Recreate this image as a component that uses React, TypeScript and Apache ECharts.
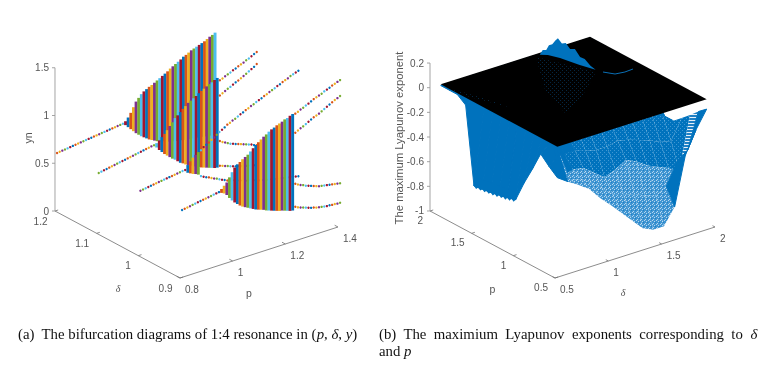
import React, { useEffect, useRef } from "react";
import * as echarts from "echarts";

// ---------- panel (a): bifurcation diagrams ----------
const pGrid = [0.8,0.81,0.82,0.83,0.84,0.85,0.86,0.87,0.88,0.89,0.9,0.91,0.92,0.93,0.94,0.95,0.96,0.97,0.98,0.99,1,1.01,1.02,1.03,1.04,1.05,1.06,1.07,1.08,1.09,1.1,1.11,1.12,1.13,1.14,1.15,1.16,1.17,1.18,1.19,1.2,1.21,1.22,1.23,1.24,1.25,1.26,1.27,1.28,1.29,1.3,1.31,1.32,1.33,1.34,1.35,1.36,1.37,1.38,1.39,1.4];
const matlabColors = ["#0072BD","#D95319","#EDB120","#7E2F8E","#77AC30","#4DBEEE","#A2142F"];

const d12Stem = [.620,.623,.626,.629,.632,.636,.640,.643,.647,.650,.653,.657,.660,.663,.667,.670,.673,.677,.680,.683,.687,.690,.693,.697,.700,.703];
const d12Top = [.71,.74,.78,.83,.88,.91,.94,.96,.975,.99,1.00,1.015,1.03,1.045,1.06,1.075,1.09,1.11,1.125,1.14,1.155,1.17,1.19,1.20,1.215,1.23,1.24,1.25,1.26,1.27,1.28,1.295,1.31,1.32,1.335];
const d12Bottom = [.69,.66,.63,.60,.57,.545,.52,.50,.48,.46,.445,.43,.415,.405,.40,.385,.375,.37,.36,.355,.35,.345,.34,.335,.33,.33,.32,.32,.31,.31,.305,.30,.295,.29,.29];

const d11Stem = [.644,.649,.654,.659,.664,.669,.674,.679,.684,.689,.694,.699,.704,.709,.714,.719,.724,.729,.734,.739,.744,.748];
const d11Top = [.75,.77,.795,.82,.85,.885,.915,.95,.97,.995,1.02,1.04,1.065,1.08,1.095,1.11,1.13,1.145,1.16,1.175,1.19,1.20,1.215,1.228];
const d11Bottom = [.725,.69,.66,.63,.605,.58,.555,.535,.51,.485,.47,.45,.435,.42,.405,.39,.38,.365,.355,.345,.335,.325,.315,.31];
const d11BranchA = [1.205,1.215,1.23,1.24,1.25,1.265,1.275,1.29,1.30,1.31,1.325,1.335,1.35,1.365,1.377];
const d11BranchB = [1.045,1.06,1.075,1.09,1.10,1.115,1.13,1.14,1.155,1.17,1.185,1.20,1.215,1.23,1.25];
const d11BranchC = [.57,.55,.535,.52,.505,.495,.485,.475,.465,.455,.445,.435,.425,.41,.40];
const d11BranchD = [.31,.30,.29,.28,.27,.26,.25,.245,.235,.23,.22,.215,.21,.20,.195];

const d10Stem = [.692,.696,.700,.704,.708,.712,.716,.720,.724,.728,.732,.736,.740,.744,.748,.752,.755,.758];
const d10Top = [.79,.82,.85,.87,.89];
const d10Bottom = [.73,.715,.70,.69,.675];
const d10BranchA = [.91,.935,.95,.965,.985,1.00,1.02,1.04,1.055,1.07,1.09,1.10,1.115,1.125,1.14,1.155,1.165,1.18,1.19,1.205,1.215,1.23,1.24,1.25,1.265,1.275,1.29,1.30,1.31,1.325,1.335,1.35,1.36,1.37,1.385,1.395,1.405,1.414];
const d10BranchB = [.64,.625,.61,.60,.585,.57,.56,.545,.53,.52,.505,.495,.49,.48,.47,.46,.45,.44,.435,.425,.42,.41,.40,.395,.385,.38,.375,.37,.36,.355,.35,.345,.34,.335,.33,.32,.315,.31];

const d09Stem = [.724,.728,.733,.737,.742,.746,.751,.755,.760,.764,.769,.773,.778,.782,.786];
const d09Top = [.80,.825,.85,.895,.94,.98,1.005,1.02,1.04,1.055,1.07,1.095,1.12,1.145,1.165,1.185,1.205,1.22,1.24,1.255,1.265,1.28,1.29,1.30,1.315,1.32,1.335,1.345];
const d09Bottom = [.78,.765,.74,.70,.665,.635,.61,.585,.565,.55,.535,.52,.505,.49,.48,.47,.46,.445,.435,.425,.415,.405,.395,.39,.38,.37,.36,.355];
const d09BranchA = [1.35,1.36,1.375,1.385,1.40,1.41,1.425,1.44,1.45,1.46,1.47,1.485,1.495,1.505,1.52,1.53,1.54,1.55];
const d09BranchB = [1.15,1.165,1.18,1.19,1.205,1.22,1.235,1.25,1.26,1.27,1.285,1.30,1.315,1.33,1.345,1.36,1.37,1.383];
const d09BranchC = [.615,.60,.585,.575,.56,.55,.54,.53,.52,.51,.505,.50,.495,.49,.485,.48,.475,.47];
const d09BranchD = [.375,.36,.35,.34,.33,.32,.31,.305,.295,.29,.285,.28,.275,.275,.27,.27,.265,.265];

const sheets = [
  { delta: 1.195, shift: 1, stem: d12Stem, top: d12Top, bottom: d12Bottom, branches: [] as number[][] },
  { delta: 1.095, shift: 4, stem: d11Stem, top: d11Top, bottom: d11Bottom, branches: [d11BranchA, d11BranchB, d11BranchC, d11BranchD] },
  { delta: 0.995, shift: 3, stem: d10Stem, top: d10Top, bottom: d10Bottom, branches: [d10BranchA, d10BranchB] },
  { delta: 0.895, shift: 0, stem: d09Stem, top: d09Top, bottom: d09Bottom, branches: [d09BranchA, d09BranchB, d09BranchC, d09BranchD] },
];

const aYTicks = [0, 0.5, 1, 1.5];
const aDeltaTicks = [1.2, 1.1, 1, 0.9];
const aPTicks = [0.8, 1, 1.2, 1.4];
const bZTicks = [0.2, 0, -0.2, -0.4, -0.6, -0.8, -1];
const bPTicks = [2, 1.5, 1, 0.5];
const bDeltaTicks = [0.5, 1, 1.5, 2];

// ---------- panel (b): maximum Lyapunov exponent ----------
const surfaceP = [0.6,0.7,0.8,0.9,1.0,1.1,1.2,1.3,1.4,1.5,1.6,1.7,1.8,1.9,2.0];
const surfaceDelta = [0.6,0.7,0.8,0.9,1.0,1.1,1.2,1.3,1.4,1.5,1.6,1.7,1.8,1.9,2.0];
const surfaceZ = [
  [-.25,-.31,-.365,-.425,-.525,-.61,-.70,-.79,-.88,-.92,-.92,-.79,-.40,-.22,-.08],
  [-.195,-.12,-.36,-.38,-.44,-.51,-.59,-.62,-.64,-.68,-.71,-.66,-.49,-.42,-.136],
  [-.13,-.05,-.37,-.34,-.355,-.42,-.484,-.45,-.40,-.44,-.50,-.54,-.576,-.62,-.20],
  [-.29,-.03,-.25,-.25,-.25,-.28,-.30,-.30,-.28,-.30,-.33,-.36,-.40,-.42,-.26],
  [-.44,-.03,-.12,-.12,-.13,-.14,-.15,-.15,-.15,-.16,-.18,-.20,-.22,-.25,-.32],
  [-.61,-.03,-.05,-.05,-.05,-.05,-.05,-.05,-.05,-.06,-.07,-.08,-.10,-.15,-.32],
  [-.63,-.03,-.03,-.02,-.02,-.02,-.02,-.02,-.02,-.02,-.03,-.03,-.04,-.08,-.29],
  [-.645,-.04,-.02,-.02,-.02,-.02,-.02,-.02,-.02,-.02,-.02,-.02,-.02,-.05,-.25],
  [-.66,-.05,-.02,-.02,-.02,-.02,-.02,-.02,-.02,-.02,-.02,-.02,-.02,-.03,-.20],
  [-.67,-.04,-.02,-.02,-.02,-.02,-.02,-.02,-.02,-.02,-.02,-.02,-.02,-.02,-.15],
  [-.68,-.03,-.02,-.02,-.02,-.02,-.02,-.02,-.02,-.02,-.02,-.02,-.02,-.02,-.10],
  [-.06,-.02,-.02,-.02,-.02,-.02,-.02,-.02,-.02,-.02,-.02,-.02,-.02,-.02,-.06],
  [-.01,-.01,-.01,-.01,-.01,-.01,-.01,-.01,-.01,-.01,-.01,-.01,-.01,-.01,-.01],
  [-.01,-.01,-.01,-.01,-.01,-.01,-.01,-.01,-.01,-.01,-.01,-.01,-.01,-.01,-.01],
  [-.01,-.01,-.01,-.01,-.01,-.01,-.01,-.01,-.01,-.01,-.01,-.01,-.01,-.01,-.01],
];
const meshDensity = [
  "02222222222000",
  "00222222222213",
  "00011111111111",
  "00001111111111",
  "00000000000000",
];
const planeP = [0.6, 2, 2, 0.6];
const planeDelta = [0.6, 0.6, 2, 2];
const teethP = [1.1,1.125,1.15,1.175,1.2,1.225,1.25,1.275,1.3,1.325,1.35,1.375,1.4,1.425,1.45,1.475,1.5,1.525,1.55,1.575,1.6,1.6,1.1];
const teethZ = [-.61,-.635,-.62,-.645,-.63,-.655,-.64,-.66,-.645,-.67,-.655,-.675,-.66,-.68,-.665,-.685,-.67,-.69,-.675,-.695,-.68,-.6,-.55];
const spikeP = [1.97,1.972,1.975,1.968,1.96,1.955,1.95,1.925,1.90,1.855,1.81,1.735,1.66,1.585,1.51,1.65,1.835,1.93];
const spikeDelta = [1.505,1.535,1.57,1.59,1.615,1.64,1.66,1.678,1.695,1.70,1.71,1.70,1.685,1.68,1.67,1.63,1.59,1.55];
const spikeZ = [0,.03,.02,.055,.06,.085,.1,.06,.07,.035,.05,.015,.03,.002,0,0,0,0];
const arcP = [1.446,1.364,1.348,1.354];
const arcDelta = [1.689,1.738,1.818,1.898];
const speckleAP = [1.957,1.478,1.156,1.04,1.453];
const speckleADelta = [1.46,1.648,1.247,1.016,1.151];
const speckleBP = [1.943,1.618,1.344,1.69];
const speckleBDelta = [.596,.699,.765,.633];

const projA = (p: number, d: number, y: number) => [
  180 + (p - 0.8) * 263.3 - (d - 0.9) * 416.7,
  278 - (p - 0.8) * 85 - (d - 0.9) * 223.3 - y * 95.5,
];
const projB = (p: number, d: number, z: number) => [
  555 - (p - 0.5) * 83.33 + (d - 0.5) * 106.67,
  278 - (p - 0.5) * 44.67 - (d - 0.5) * 34 - (z + 1) * 123.3,
];

function makePattern(size: number, bg: string, paint: (c: CanvasRenderingContext2D) => void) {
  const cv = document.createElement("canvas");
  cv.width = size;
  cv.height = size;
  const c = cv.getContext("2d") as CanvasRenderingContext2D;
  c.fillStyle = bg;
  c.fillRect(0, 0, size, size);
  paint(c);
  return { image: cv, repeat: "repeat", imageWidth: size, imageHeight: size } as any;
}

const SANS = '"Liberation Sans", Arial, sans-serif';
const SERIF = '"Liberation Serif", "Times New Roman", serif';
const INK = "#555555";
const CAP = 14.8;

function custom(name: string, data: any[], renderItem: any) {
  return {
    type: "custom", name, data, renderItem, silent: true, clip: false, animation: false,
    xAxisIndex: 0, yAxisIndex: 0, encode: { x: 0, y: 1 },
  };
}

export default function App() {
  const ref = useRef<HTMLDivElement>(null);
  useEffect(() => {
    document.body.style.margin = "0";
    if (!ref.current) return;
    const chart = echarts.init(ref.current, undefined, { renderer: "svg" });

    const medium = makePattern(4, "#0072BD", (c) => {
      c.fillStyle = "#3c96d3";
      c.fillRect(0, 0, 1, 1);
      c.fillRect(2, 2, 1, 1);
    });
    const light = makePattern(4, "#3f95d2", (c) => {
      c.fillStyle = "#b5d6ef";
      c.fillRect(0, 0, 1, 1);
      c.fillRect(2, 1, 1, 1);
      c.fillRect(1, 3, 1, 1);
      c.fillStyle = "#1f80c5";
      c.fillRect(3, 2, 1, 1);
    });
    const hatch = makePattern(3, "#1f80c5", (c) => {
      c.fillStyle = "#e6f1f9";
      c.fillRect(0, 0, 3, 1);
    });
    const speckle = makePattern(4, "#000000", (c) => {
      c.fillStyle = "#052640";
      c.fillRect(0, 0, 1, 1);
      c.fillRect(2, 2, 1, 1);
    });
    const fills: any[] = ["#0072BD", medium, light, hatch];

    // ---- panel (a) marks ----
    const marks: any[] = [];
    sheets.forEach((s, si) => {
      const bandRowsS: number[][] = [];
      const dotRowsS: number[][] = [];
      s.stem.forEach((y, i) => dotRowsS.push([pGrid[i], s.delta, y, (i + s.shift) % 7]));
      s.top.forEach((t, k) => {
        const i = s.stem.length + k;
        bandRowsS.push([pGrid[i], s.delta, s.bottom[k], t, (i + s.shift) % 7]);
      });
      s.branches.forEach((b) =>
        b.forEach((y, k) => {
          const i = s.stem.length + s.top.length + k;
          dotRowsS.push([pGrid[i], s.delta, y, (i + s.shift) % 7]);
        })
      );
      marks.push(
        custom("band" + si, bandRowsS, (_: any, api: any) => {
          const a = api.coord(projA(api.value(0), api.value(1), api.value(3)));
          const b = api.coord(projA(api.value(0), api.value(1), api.value(2)));
          return {
            type: "rect",
            shape: { x: a[0] - 1.45, y: a[1] - 1, width: 2.9, height: b[1] - a[1] + 2 },
            style: { fill: matlabColors[api.value(4)] },
          };
        }),
        custom("dots" + si, dotRowsS, (_: any, api: any) => {
          const a = api.coord(projA(api.value(0), api.value(1), api.value(2)));
          return {
            type: "circle",
            shape: { cx: a[0], cy: a[1], r: 1.2 },
            style: { fill: matlabColors[api.value(3)] },
          };
        })
      );
    });

    // ---- axes ----
    const segs: number[][] = [];
    const pushSeg = (a: number[], b: number[]) => segs.push([a[0], a[1], b[0], b[1]]);
    pushSeg(projA(0.8, 0.9, 0), projA(1.4, 0.9, 0));
    pushSeg(projA(0.8, 0.9, 0), projA(0.8, 1.2, 0));
    aDeltaTicks.forEach((d) => pushSeg(projA(0.8, d, 0), projA(0.812, d, 0)));
    aPTicks.forEach((p) => pushSeg(projA(p, 0.9, 0), projA(p, 0.908, 0)));
    pushSeg(projB(0.5, 0.5, -1), projB(0.5, 2, -1));
    pushSeg(projB(0.5, 0.5, -1), projB(2, 0.5, -1));
    bPTicks.forEach((p) => pushSeg(projB(p, 0.5, -1), projB(p, 0.53, -1)));
    bDeltaTicks.forEach((d) => pushSeg(projB(0.5, d, -1), projB(0.53, d, -1)));
    const segsV: number[][] = [];
    const pushV = (a: number[], b: number[]) => segsV.push([a[0], a[1], b[0], b[1]]);
    pushV(projA(0.8, 1.2, 0), projA(0.8, 1.2, 1.5));
    aYTicks.forEach((y) => {
      const a = projA(0.8, 1.2, y);
      pushV(a, [a[0] - 3, a[1]]);
    });
    pushV(projB(2, 0.5, -1), projB(2, 0.5, 0.2));
    bZTicks.forEach((z) => {
      const a = projB(2, 0.5, z);
      pushV(a, [a[0] - 3, a[1]]);
    });
    const segRender = (color: string, w: number) => (_: any, api: any) => {
      const a = api.coord([api.value(0), api.value(1)]);
      const b = api.coord([api.value(2), api.value(3)]);
      return {
        type: "line",
        shape: { x1: a[0], y1: a[1], x2: b[0], y2: b[1] },
        style: { stroke: color, lineWidth: w, fill: "none" },
      };
    };

    // ---- tick labels ----
    const labels: any[] = [];
    const addLabel = (t: string, pos: number[], dx: number, dy: number, align: string) =>
      labels.push([pos[0], pos[1], dx, dy, align, t]);
    aYTicks.forEach((y) => addLabel(String(y), projA(0.8, 1.2, y), -6, 0, "right"));
    aDeltaTicks.forEach((d) => addLabel(d === 1 ? "1" : d.toFixed(1), projA(0.8, d, 0), -7.5, 10, "right"));
    aPTicks.forEach((p) => addLabel(p === 1 ? "1" : p.toFixed(1), projA(p, 0.9, 0), 5, 11.5, "left"));
    bZTicks.forEach((z) => addLabel(String(z), projB(2, 0.5, z), -6, 0, "right"));
    bPTicks.forEach((p) => addLabel(String(p), projB(p, 0.5, -1), -7, 9.5, "right"));
    bDeltaTicks.forEach((d) => addLabel(String(d), projB(0.5, d, -1), 5, 11, "left"));
    const labelRender = (_: any, api: any) => {
      const a = api.coord([api.value(0), api.value(1)]);
      return {
        type: "text",
        x: a[0] + api.value(2),
        y: a[1] + api.value(3),
        style: {
          text: labels[api.value(4)][5],
          fill: INK,
          font: `10px ${SANS}`,
          align: labels[api.value(4)][4],
          verticalAlign: "middle",
        },
      };
    };
    const labelRows = labels.map((l, i) => [l[0], l[1], l[2], l[3], i]);

    // ---- surface cells, painted back to front ----
    const cellRows: number[][] = [];
    for (let i = surfaceP.length - 2; i >= 0; i--) {
      for (let j = 0; j < surfaceDelta.length - 1; j++) {
        cellRows.push([
          surfaceP[i], surfaceDelta[j], surfaceP[i + 1], surfaceDelta[j + 1],
          surfaceZ[i][j], surfaceZ[i][j + 1], surfaceZ[i + 1][j + 1], surfaceZ[i + 1][j],
          i < meshDensity.length ? Number(meshDensity[i][j]) : 0,
        ]);
      }
    }
    const cellRender = (_: any, api: any) => {
      const v = (k: number) => api.value(k);
      const pts = [
        projB(v(0), v(1), v(4)), projB(v(0), v(3), v(5)),
        projB(v(2), v(3), v(6)), projB(v(2), v(1), v(7)),
      ].map((q) => api.coord(q));
      const cls = v(8);
      return {
        type: "polygon",
        shape: { points: pts },
        style: cls === 0
          ? { fill: fills[0], stroke: "#0072BD", lineWidth: 1 }
          : { fill: fills[cls] },
      };
    };

    const polyRender = (rows: number[][], fill: any) => (_: any, api: any) => ({
      type: "polygon",
      shape: { points: rows.map((r) => api.coord(projB(r[0], r[1], r[2]))) },
      style: { fill },
    });
    const toRows = (ps: number[], ds: number[], zs?: number[]) =>
      ps.map((p, i) => [p, ds[i], zs ? zs[i] : 0]);
    const planeRows = toRows(planeP, planeDelta);
    const spikeRows = toRows(spikeP, spikeDelta, spikeZ);
    const arcRows = toRows(arcP, arcDelta);
    const speckARows = toRows(speckleAP, speckleADelta);
    const speckBRows = toRows(speckleBP, speckleBDelta);
    const teethRows = teethP.map((p, i) => [p, 0.6, teethZ[i]]);

    chart.setOption({
      animation: false,
      backgroundColor: "#fff",
      grid: { left: 0, right: 0, top: 0, bottom: 0 },
      xAxis: { type: "value", min: 0, max: 761, show: false },
      yAxis: { type: "value", min: 0, max: 366, inverse: true, show: false },
      series: [
        custom("axes", segs, segRender("#6e6e6e", 0.8)),
        custom("axesV", segsV, segRender("#9a9a9a", 0.9)),
        ...marks,
        custom("surface", cellRows, cellRender),
        custom("teeth", [teethRows[0]], polyRender(teethRows, "#0072BD")),
        custom("plane", [planeRows[0]], polyRender(planeRows, "#000")),
        custom("speckleA", [speckARows[0]], polyRender(speckARows, speckle)),
        custom("speckleB", [speckBRows[0]], polyRender(speckBRows, speckle)),
        custom("spike", [spikeRows[0]], polyRender(spikeRows, "#0072BD")),
        custom("arc", [arcRows[0]], (_: any, api: any) => ({
          type: "polyline",
          shape: { points: arcRows.map((r) => api.coord(projB(r[0], r[1], r[2]))) },
          style: { stroke: "#0a6fb5", lineWidth: 1, fill: "none" },
        })),
        custom("labels", labelRows, labelRender),
      ],
      graphic: [
        { type: "text", x: 28, y: 138, rotation: Math.PI / 2, originX: 0, originY: 0,
          style: { text: "yn", fill: INK, font: `10.5px ${SANS}`, align: "center", verticalAlign: "middle" } },
        { type: "text", x: 118, y: 288, style: { text: "δ", fill: INK, font: `italic 10px ${SERIF}`, align: "center", verticalAlign: "middle" } },
        { type: "text", x: 249, y: 292.5, style: { text: "p", fill: INK, font: `10.5px ${SANS}`, align: "center", verticalAlign: "middle" } },
        { type: "text", x: 399, y: 138, rotation: Math.PI / 2, originX: 0, originY: 0,
          style: { text: "The maximum Lyapunov exponent", fill: INK, font: `11.3px ${SANS}`, align: "center", verticalAlign: "middle" } },
        { type: "text", x: 492.5, y: 289, style: { text: "p", fill: INK, font: `10.5px ${SANS}`, align: "center", verticalAlign: "middle" } },
        { type: "text", x: 623, y: 292.5, style: { text: "δ", fill: INK, font: `italic 10px ${SERIF}`, align: "center", verticalAlign: "middle" } },
        { type: "text", x: 18, y: 334, style: {
            text: "(a)  The bifurcation diagrams of 1:4 resonance in ({i|p}, {i|δ}, {i|y})",
            fill: "#111", font: `${CAP}px ${SERIF}`, verticalAlign: "middle",
            rich: { i: { font: `italic ${CAP}px ${SERIF}`, fill: "#111" } } } },
        { type: "text", x: 379, y: 334, style: {
            text: "(b)  The  maximium  Lyapunov  exponents  corresponding  to  {i|δ}",
            fill: "#111", font: `${CAP}px ${SERIF}`, verticalAlign: "middle",
            rich: { i: { font: `italic ${CAP}px ${SERIF}`, fill: "#111" } } } },
        { type: "text", x: 379, y: 351, style: {
            text: "and {i|p}",
            fill: "#111", font: `${CAP}px ${SERIF}`, verticalAlign: "middle",
            rich: { i: { font: `italic ${CAP}px ${SERIF}`, fill: "#111" } } } },
      ],
    });
    return () => chart.dispose();
  }, []);
  return <div ref={ref} style={{ position: "absolute", left: 0, top: 0, width: 761, height: 366, filter: "blur(0.3px)" }} />;
}
